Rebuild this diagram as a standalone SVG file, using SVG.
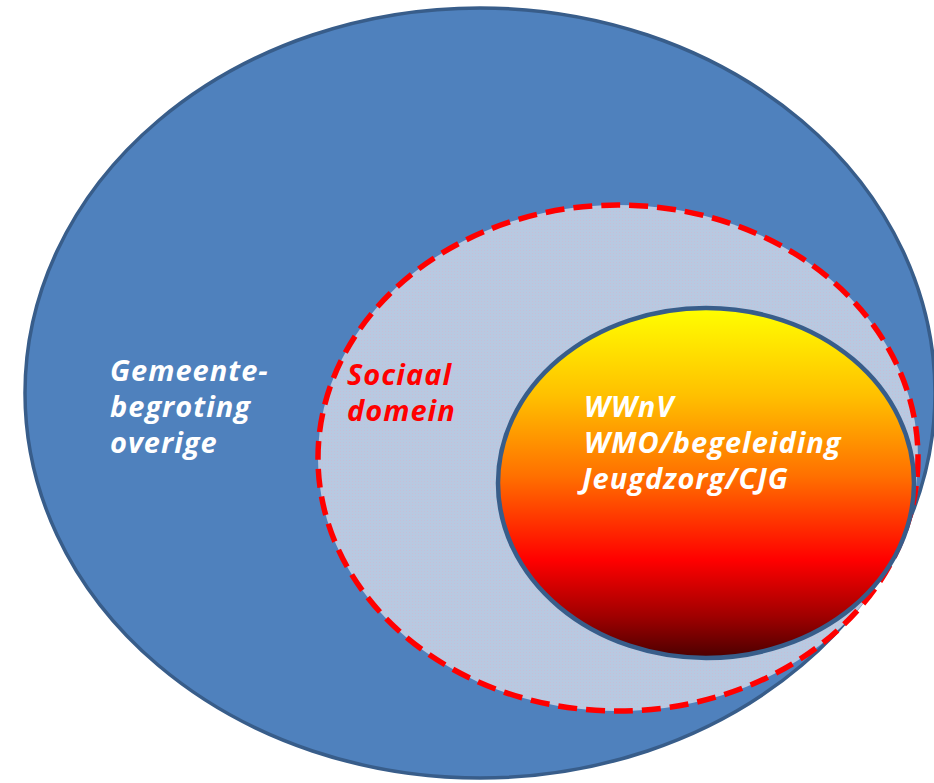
<svg xmlns="http://www.w3.org/2000/svg" width="934" height="783" viewBox="0 0 934 783">
  <style>
    .lbl { font-family: "Open Sans", "Noto Sans", "DejaVu Sans", sans-serif; font-weight: bold; font-style: italic; font-size: 29px; letter-spacing: 1px; }
    .white { fill: #FFFFFF; }
    .red { fill: #FF0000; }
  </style>
  <defs>
    <pattern id="dots" width="3" height="3" patternUnits="userSpaceOnUse">
      <rect width="3" height="3" fill="#B8C9E1"/>
      <rect x="1" y="1" width="1" height="1" fill="#C7BED6"/>
    </pattern>
    <linearGradient id="sun" x1="0" y1="0" x2="0" y2="1">
      <stop offset="0" stop-color="#FFFF00"/>
      <stop offset="0.25" stop-color="#FFC000"/>
      <stop offset="0.48" stop-color="#FF7000"/>
      <stop offset="0.72" stop-color="#FF0000"/>
      <stop offset="0.88" stop-color="#A00000"/>
      <stop offset="1" stop-color="#4A0000"/>
    </linearGradient>
  </defs>
  <g id="gemeente">
    <ellipse cx="480" cy="393" rx="455" ry="385" fill="#4F81BD" stroke="#385D8A" stroke-width="3.5"/>
    <text class="lbl white" x="110" y="381">Gemeente-</text>
    <text class="lbl white" x="110" y="417">begroting</text>
    <text class="lbl white" x="110" y="453">overige</text>
  </g>
  <g id="sociaal">
    <ellipse cx="618" cy="458" rx="300" ry="253" fill="url(#dots)" stroke="#FF0000" stroke-width="5.5" stroke-dasharray="19 9"/>
    <text class="lbl red" x="347" y="385">Sociaal</text>
    <text class="lbl red" x="347" y="421">domein</text>
  </g>
  <g id="kern">
    <ellipse cx="706" cy="483" rx="208" ry="175" fill="url(#sun)" stroke="#385D8A" stroke-width="4.5"/>
    <text class="lbl white" x="584" y="417">WWnV</text>
    <text class="lbl white" x="584" y="453">WMO/begeleiding</text>
    <text class="lbl white" x="582" y="489">Jeugdzorg/CJG</text>
  </g>
  <g id="connectors"></g>
</svg>
